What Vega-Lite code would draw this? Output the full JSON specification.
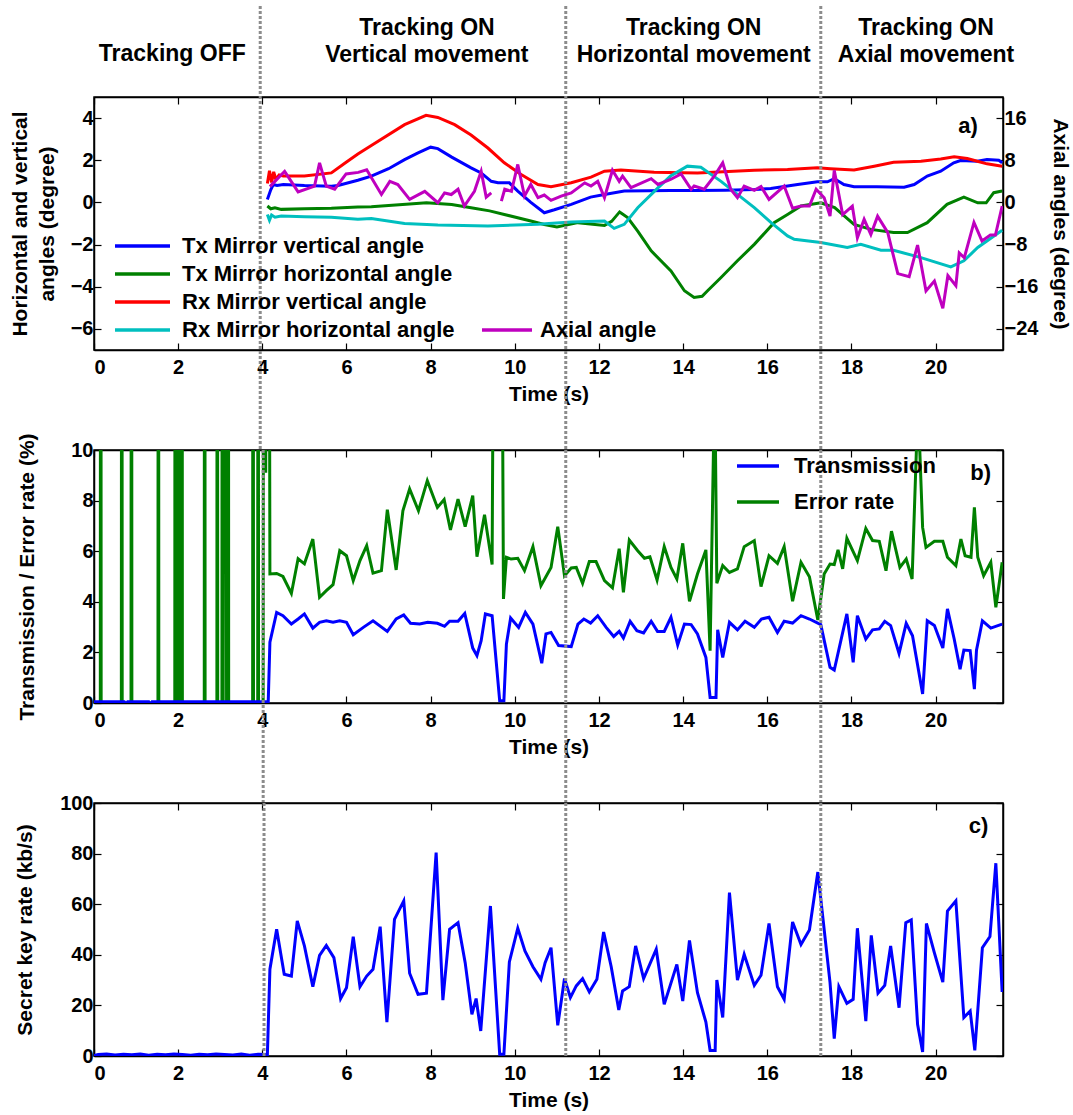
{
  "$schema": "https://vega.github.io/schema/vega-lite/v6.json",
  "background": "white",
  "padding": {"left": 8, "top": 3, "right": 5, "bottom": 5},
  "bounds": "flush",
  "spacing": 100,
  "config": {
    "font": "Liberation Sans",
    "view": {"stroke": "black", "strokeWidth": 1.5},
    "axis": {"labelFont": "Liberation Sans", "labelFontSize": 20, "labelFontWeight": "bold", "labelColor": "black", "titleFont": "Liberation Sans", "titleFontSize": 21, "titleFontWeight": "bold", "titleColor": "black", "tickColor": "black", "tickSize": -7, "tickWidth": 1.2, "domainColor": "black", "domainWidth": 1.5, "grid": false, "labelPadding": 8},
    "axisX": {"labelPadding": 14},
    "text": {"font": "Liberation Sans", "fontWeight": "bold", "color": "black"}
  },
  "datasets": {
    "angles": [
      {"series":"Tx Mirror vertical angle","t":4.12,"v":0.14},{"series":"Tx Mirror vertical angle","t":4.2,"v":0.6},{"series":"Tx Mirror vertical angle","t":4.26,"v":0.85},{"series":"Tx Mirror vertical angle","t":4.35,"v":0.8},{"series":"Tx Mirror vertical angle","t":4.5,"v":0.85},{"series":"Tx Mirror vertical angle","t":5.0,"v":0.8},{"series":"Tx Mirror vertical angle","t":5.64,"v":0.77},{"series":"Tx Mirror vertical angle","t":5.8,"v":0.8},{"series":"Tx Mirror vertical angle","t":6.27,"v":1.05},{"series":"Tx Mirror vertical angle","t":6.59,"v":1.25},{"series":"Tx Mirror vertical angle","t":7.0,"v":1.6},{"series":"Tx Mirror vertical angle","t":7.38,"v":2.03},{"series":"Tx Mirror vertical angle","t":7.7,"v":2.35},{"series":"Tx Mirror vertical angle","t":8.0,"v":2.62},{"series":"Tx Mirror vertical angle","t":8.17,"v":2.55},{"series":"Tx Mirror vertical angle","t":8.5,"v":2.15},{"series":"Tx Mirror vertical angle","t":8.96,"v":1.64},{"series":"Tx Mirror vertical angle","t":9.2,"v":1.4},{"series":"Tx Mirror vertical angle","t":9.44,"v":1.0},{"series":"Tx Mirror vertical angle","t":9.6,"v":0.93},{"series":"Tx Mirror vertical angle","t":9.87,"v":0.93},{"series":"Tx Mirror vertical angle","t":10.07,"v":0.54},{"series":"Tx Mirror vertical angle","t":10.38,"v":0.0},{"series":"Tx Mirror vertical angle","t":10.7,"v":-0.49},{"series":"Tx Mirror vertical angle","t":10.94,"v":-0.35},{"series":"Tx Mirror vertical angle","t":11.34,"v":-0.09},{"series":"Tx Mirror vertical angle","t":11.8,"v":0.25},{"series":"Tx Mirror vertical angle","t":12.13,"v":0.38},{"series":"Tx Mirror vertical angle","t":12.6,"v":0.54},{"series":"Tx Mirror vertical angle","t":13.7,"v":0.57},{"series":"Tx Mirror vertical angle","t":14.3,"v":0.57},{"series":"Tx Mirror vertical angle","t":15.0,"v":0.58},{"series":"Tx Mirror vertical angle","t":15.7,"v":0.61},{"series":"Tx Mirror vertical angle","t":16.08,"v":0.66},{"series":"Tx Mirror vertical angle","t":16.72,"v":0.85},{"series":"Tx Mirror vertical angle","t":17.19,"v":0.98},{"series":"Tx Mirror vertical angle","t":17.43,"v":0.98},{"series":"Tx Mirror vertical angle","t":17.59,"v":1.13},{"series":"Tx Mirror vertical angle","t":17.82,"v":0.85},{"series":"Tx Mirror vertical angle","t":18.06,"v":0.74},{"series":"Tx Mirror vertical angle","t":18.6,"v":0.74},{"series":"Tx Mirror vertical angle","t":19.25,"v":0.72},{"series":"Tx Mirror vertical angle","t":19.49,"v":0.85},{"series":"Tx Mirror vertical angle","t":19.8,"v":1.25},{"series":"Tx Mirror vertical angle","t":20.12,"v":1.48},{"series":"Tx Mirror vertical angle","t":20.43,"v":1.88},{"series":"Tx Mirror vertical angle","t":20.59,"v":1.99},{"series":"Tx Mirror vertical angle","t":20.99,"v":1.95},{"series":"Tx Mirror vertical angle","t":21.22,"v":2.03},{"series":"Tx Mirror vertical angle","t":21.5,"v":2.0},{"series":"Tx Mirror vertical angle","t":21.58,"v":1.88},
      {"series":"Tx Mirror horizontal angle","t":4.12,"v":-0.17},{"series":"Tx Mirror horizontal angle","t":4.2,"v":-0.3},{"series":"Tx Mirror horizontal angle","t":4.3,"v":-0.25},{"series":"Tx Mirror horizontal angle","t":4.45,"v":-0.33},{"series":"Tx Mirror horizontal angle","t":5.0,"v":-0.3},{"series":"Tx Mirror horizontal angle","t":5.64,"v":-0.28},{"series":"Tx Mirror horizontal angle","t":6.27,"v":-0.22},{"series":"Tx Mirror horizontal angle","t":6.59,"v":-0.2},{"series":"Tx Mirror horizontal angle","t":7.0,"v":-0.15},{"series":"Tx Mirror horizontal angle","t":7.5,"v":-0.08},{"series":"Tx Mirror horizontal angle","t":7.9,"v":-0.02},{"series":"Tx Mirror horizontal angle","t":8.5,"v":-0.1},{"series":"Tx Mirror horizontal angle","t":8.96,"v":-0.25},{"series":"Tx Mirror horizontal angle","t":9.4,"v":-0.4},{"series":"Tx Mirror horizontal angle","t":9.75,"v":-0.57},{"series":"Tx Mirror horizontal angle","t":10.38,"v":-0.88},{"series":"Tx Mirror horizontal angle","t":10.7,"v":-1.05},{"series":"Tx Mirror horizontal angle","t":11.0,"v":-1.17},{"series":"Tx Mirror horizontal angle","t":11.5,"v":-0.96},{"series":"Tx Mirror horizontal angle","t":12.13,"v":-1.09},{"series":"Tx Mirror horizontal angle","t":12.3,"v":-0.9},{"series":"Tx Mirror horizontal angle","t":12.49,"v":-0.45},{"series":"Tx Mirror horizontal angle","t":12.68,"v":-0.72},{"series":"Tx Mirror horizontal angle","t":12.92,"v":-1.36},{"series":"Tx Mirror horizontal angle","t":13.24,"v":-2.3},{"series":"Tx Mirror horizontal angle","t":13.71,"v":-3.25},{"series":"Tx Mirror horizontal angle","t":14.03,"v":-4.19},{"series":"Tx Mirror horizontal angle","t":14.26,"v":-4.51},{"series":"Tx Mirror horizontal angle","t":14.45,"v":-4.45},{"series":"Tx Mirror horizontal angle","t":14.58,"v":-4.19},{"series":"Tx Mirror horizontal angle","t":14.9,"v":-3.56},{"series":"Tx Mirror horizontal angle","t":15.29,"v":-2.77},{"series":"Tx Mirror horizontal angle","t":15.69,"v":-1.99},{"series":"Tx Mirror horizontal angle","t":16.16,"v":-0.96},{"series":"Tx Mirror horizontal angle","t":16.48,"v":-0.57},{"series":"Tx Mirror horizontal angle","t":16.8,"v":-0.17},{"series":"Tx Mirror horizontal angle","t":17.27,"v":-0.02},{"series":"Tx Mirror horizontal angle","t":17.6,"v":-0.25},{"series":"Tx Mirror horizontal angle","t":18.06,"v":-1.04},{"series":"Tx Mirror horizontal angle","t":18.46,"v":-1.28},{"series":"Tx Mirror horizontal angle","t":19.0,"v":-1.43},{"series":"Tx Mirror horizontal angle","t":19.33,"v":-1.43},{"series":"Tx Mirror horizontal angle","t":19.8,"v":-0.96},{"series":"Tx Mirror horizontal angle","t":20.27,"v":-0.09},{"series":"Tx Mirror horizontal angle","t":20.67,"v":0.25},{"series":"Tx Mirror horizontal angle","t":21.0,"v":-0.02},{"series":"Tx Mirror horizontal angle","t":21.2,"v":-0.02},{"series":"Tx Mirror horizontal angle","t":21.38,"v":0.46},{"series":"Tx Mirror horizontal angle","t":21.58,"v":0.54},
      {"series":"Rx Mirror vertical angle","t":4.12,"v":0.9},{"series":"Rx Mirror vertical angle","t":4.17,"v":1.5},{"series":"Rx Mirror vertical angle","t":4.22,"v":0.95},{"series":"Rx Mirror vertical angle","t":4.27,"v":1.45},{"series":"Rx Mirror vertical angle","t":4.32,"v":1.1},{"series":"Rx Mirror vertical angle","t":4.4,"v":1.3},{"series":"Rx Mirror vertical angle","t":4.5,"v":1.25},{"series":"Rx Mirror vertical angle","t":5.0,"v":1.25},{"series":"Rx Mirror vertical angle","t":5.64,"v":1.4},{"series":"Rx Mirror vertical angle","t":5.95,"v":1.85},{"series":"Rx Mirror vertical angle","t":6.27,"v":2.3},{"series":"Rx Mirror vertical angle","t":6.59,"v":2.7},{"series":"Rx Mirror vertical angle","t":7.38,"v":3.69},{"series":"Rx Mirror vertical angle","t":7.89,"v":4.13},{"series":"Rx Mirror vertical angle","t":8.17,"v":4.03},{"series":"Rx Mirror vertical angle","t":8.57,"v":3.69},{"series":"Rx Mirror vertical angle","t":8.96,"v":3.2},{"series":"Rx Mirror vertical angle","t":9.36,"v":2.58},{"series":"Rx Mirror vertical angle","t":9.75,"v":1.88},{"series":"Rx Mirror vertical angle","t":10.15,"v":1.32},{"series":"Rx Mirror vertical angle","t":10.55,"v":0.85},{"series":"Rx Mirror vertical angle","t":10.86,"v":0.74},{"series":"Rx Mirror vertical angle","t":11.34,"v":0.93},{"series":"Rx Mirror vertical angle","t":11.81,"v":1.2},{"series":"Rx Mirror vertical angle","t":12.13,"v":1.48},{"series":"Rx Mirror vertical angle","t":12.52,"v":1.54},{"series":"Rx Mirror vertical angle","t":13.31,"v":1.43},{"series":"Rx Mirror vertical angle","t":14.34,"v":1.4},{"series":"Rx Mirror vertical angle","t":15.69,"v":1.53},{"series":"Rx Mirror vertical angle","t":16.48,"v":1.56},{"series":"Rx Mirror vertical angle","t":17.19,"v":1.64},{"series":"Rx Mirror vertical angle","t":17.5,"v":1.6},{"series":"Rx Mirror vertical angle","t":18.06,"v":1.54},{"series":"Rx Mirror vertical angle","t":18.54,"v":1.72},{"series":"Rx Mirror vertical angle","t":19.0,"v":1.9},{"series":"Rx Mirror vertical angle","t":19.65,"v":1.95},{"series":"Rx Mirror vertical angle","t":20.12,"v":2.06},{"series":"Rx Mirror vertical angle","t":20.44,"v":2.16},{"series":"Rx Mirror vertical angle","t":20.75,"v":2.08},{"series":"Rx Mirror vertical angle","t":20.99,"v":1.95},{"series":"Rx Mirror vertical angle","t":21.22,"v":1.83},{"series":"Rx Mirror vertical angle","t":21.58,"v":1.72},
      {"series":"Rx Mirror horizontal angle","t":4.12,"v":-0.57},{"series":"Rx Mirror horizontal angle","t":4.17,"v":-0.85},{"series":"Rx Mirror horizontal angle","t":4.22,"v":-0.6},{"series":"Rx Mirror horizontal angle","t":4.3,"v":-0.7},{"series":"Rx Mirror horizontal angle","t":4.45,"v":-0.65},{"series":"Rx Mirror horizontal angle","t":5.0,"v":-0.68},{"series":"Rx Mirror horizontal angle","t":5.64,"v":-0.7},{"series":"Rx Mirror horizontal angle","t":6.27,"v":-0.8},{"series":"Rx Mirror horizontal angle","t":6.59,"v":-0.76},{"series":"Rx Mirror horizontal angle","t":7.38,"v":-1.0},{"series":"Rx Mirror horizontal angle","t":8.17,"v":-1.07},{"series":"Rx Mirror horizontal angle","t":9.36,"v":-1.12},{"series":"Rx Mirror horizontal angle","t":10.55,"v":-1.04},{"series":"Rx Mirror horizontal angle","t":11.34,"v":-0.93},{"series":"Rx Mirror horizontal angle","t":12.13,"v":-0.88},{"series":"Rx Mirror horizontal angle","t":12.36,"v":-1.23},{"series":"Rx Mirror horizontal angle","t":12.6,"v":-1.04},{"series":"Rx Mirror horizontal angle","t":12.92,"v":-0.25},{"series":"Rx Mirror horizontal angle","t":13.4,"v":0.69},{"series":"Rx Mirror horizontal angle","t":13.7,"v":1.25},{"series":"Rx Mirror horizontal angle","t":14.1,"v":1.72},{"series":"Rx Mirror horizontal angle","t":14.42,"v":1.67},{"series":"Rx Mirror horizontal angle","t":14.9,"v":1.0},{"series":"Rx Mirror horizontal angle","t":15.29,"v":0.38},{"series":"Rx Mirror horizontal angle","t":15.69,"v":-0.25},{"series":"Rx Mirror horizontal angle","t":16.09,"v":-0.96},{"series":"Rx Mirror horizontal angle","t":16.48,"v":-1.59},{"series":"Rx Mirror horizontal angle","t":16.64,"v":-1.75},{"series":"Rx Mirror horizontal angle","t":17.27,"v":-1.9},{"series":"Rx Mirror horizontal angle","t":17.9,"v":-2.14},{"series":"Rx Mirror horizontal angle","t":18.22,"v":-1.99},{"series":"Rx Mirror horizontal angle","t":18.7,"v":-2.27},{"series":"Rx Mirror horizontal angle","t":19.0,"v":-2.27},{"series":"Rx Mirror horizontal angle","t":19.65,"v":-2.62},{"series":"Rx Mirror horizontal angle","t":20.36,"v":-3.06},{"series":"Rx Mirror horizontal angle","t":20.67,"v":-2.77},{"series":"Rx Mirror horizontal angle","t":21.0,"v":-2.14},{"series":"Rx Mirror horizontal angle","t":21.58,"v":-1.32}
    ],
    "axial": [
      {"series":"Axial angle","seg":1,"t":4.18,"a":3.0},{"series":"Axial angle","seg":1,"t":4.53,"a":5.9},{"series":"Axial angle","seg":1,"t":4.85,"a":2.0},{"series":"Axial angle","seg":1,"t":5.24,"a":3.1},{"series":"Axial angle","seg":1,"t":5.36,"a":7.5},{"series":"Axial angle","seg":1,"t":5.52,"a":3.1},{"series":"Axial angle","seg":1,"t":5.72,"a":2.5},{"series":"Axial angle","seg":1,"t":5.99,"a":5.4},{"series":"Axial angle","seg":1,"t":6.28,"a":5.7},{"series":"Axial angle","seg":1,"t":6.48,"a":6.2},{"series":"Axial angle","seg":1,"t":6.83,"a":1.5},{"series":"Axial angle","seg":1,"t":7.03,"a":4.0},{"series":"Axial angle","seg":1,"t":7.22,"a":3.4},{"series":"Axial angle","seg":1,"t":7.5,"a":0.57},{"series":"Axial angle","seg":1,"t":7.86,"a":2.1},{"series":"Axial angle","seg":1,"t":8.17,"a":-0.06},{"series":"Axial angle","seg":1,"t":8.33,"a":1.8},{"series":"Axial angle","seg":1,"t":8.49,"a":1.5},{"series":"Axial angle","seg":1,"t":8.65,"a":2.5},{"series":"Axial angle","seg":1,"t":8.8,"a":-0.7},{"series":"Axial angle","seg":1,"t":9.04,"a":2.1},{"series":"Axial angle","seg":1,"t":9.2,"a":5.9},{"series":"Axial angle","seg":1,"t":9.32,"a":1.0},{"series":"Axial angle","seg":1,"t":9.44,"a":1.8},
      {"series":"Axial angle","seg":2,"t":9.68,"a":0.25},{"series":"Axial angle","seg":2,"t":9.76,"a":2.5},{"series":"Axial angle","seg":2,"t":9.92,"a":2.1},{"series":"Axial angle","seg":2,"t":10.07,"a":7.2},{"series":"Axial angle","seg":2,"t":10.23,"a":1.2},{"series":"Axial angle","seg":2,"t":10.38,"a":3.4},{"series":"Axial angle","seg":2,"t":10.55,"a":0.9},{"series":"Axial angle","seg":2,"t":10.7,"a":1.4},{"series":"Axial angle","seg":2,"t":10.86,"a":0.4},{"series":"Axial angle","seg":2,"t":11.1,"a":1.2},{"series":"Axial angle","seg":2,"t":11.34,"a":1.8},{"series":"Axial angle","seg":2,"t":11.66,"a":3.7},{"series":"Axial angle","seg":2,"t":11.81,"a":3.1},{"series":"Axial angle","seg":2,"t":11.97,"a":4.0},{"series":"Axial angle","seg":2,"t":12.13,"a":0.9},{"series":"Axial angle","seg":2,"t":12.32,"a":6.1},{"series":"Axial angle","seg":2,"t":12.48,"a":4.0},{"series":"Axial angle","seg":2,"t":12.56,"a":5.0},{"series":"Axial angle","seg":2,"t":12.76,"a":2.8},{"series":"Axial angle","seg":2,"t":13.24,"a":4.5},{"series":"Axial angle","seg":2,"t":13.4,"a":3.4},{"series":"Axial angle","seg":2,"t":13.7,"a":4.35},{"series":"Axial angle","seg":2,"t":13.95,"a":5.4},{"series":"Axial angle","seg":2,"t":14.19,"a":2.5},{"series":"Axial angle","seg":2,"t":14.26,"a":3.1},{"series":"Axial angle","seg":2,"t":14.5,"a":2.5},{"series":"Axial angle","seg":2,"t":14.74,"a":5.0},{"series":"Axial angle","seg":2,"t":14.94,"a":7.5},{"series":"Axial angle","seg":2,"t":15.13,"a":2.5},{"series":"Axial angle","seg":2,"t":15.29,"a":0.9},{"series":"Axial angle","seg":2,"t":15.45,"a":3.1},{"series":"Axial angle","seg":2,"t":15.69,"a":2.3},{"series":"Axial angle","seg":2,"t":15.85,"a":3.0},{"series":"Axial angle","seg":2,"t":16.04,"a":0.57},{"series":"Axial angle","seg":2,"t":16.4,"a":3.1},{"series":"Axial angle","seg":2,"t":16.6,"a":-1.1},{"series":"Axial angle","seg":2,"t":16.8,"a":-0.7},{"series":"Axial angle","seg":2,"t":17.0,"a":-0.7},{"series":"Axial angle","seg":2,"t":17.16,"a":2.5},{"series":"Axial angle","seg":2,"t":17.35,"a":0.9},{"series":"Axial angle","seg":2,"t":17.49,"a":-2.6},{"series":"Axial angle","seg":2,"t":17.59,"a":6.1},{"series":"Axial angle","seg":2,"t":17.79,"a":-2.3},{"series":"Axial angle","seg":2,"t":18.02,"a":-0.7},{"series":"Axial angle","seg":2,"t":18.14,"a":-6.7},{"series":"Axial angle","seg":2,"t":18.3,"a":-3.2},{"series":"Axial angle","seg":2,"t":18.46,"a":-6.1},{"series":"Axial angle","seg":2,"t":18.62,"a":-2.6},{"series":"Axial angle","seg":2,"t":18.86,"a":-5.7},{"series":"Axial angle","seg":2,"t":19.1,"a":-13.5},{"series":"Axial angle","seg":2,"t":19.37,"a":-14.1},{"series":"Axial angle","seg":2,"t":19.57,"a":-8.1},{"series":"Axial angle","seg":2,"t":19.77,"a":-16.8},{"series":"Axial angle","seg":2,"t":19.97,"a":-14.9},{"series":"Axial angle","seg":2,"t":20.17,"a":-20.1},{"series":"Axial angle","seg":2,"t":20.29,"a":-13.9},{"series":"Axial angle","seg":2,"t":20.48,"a":-15.8},{"series":"Axial angle","seg":2,"t":20.56,"a":-9.6},{"series":"Axial angle","seg":2,"t":20.68,"a":-10.5},{"series":"Axial angle","seg":2,"t":20.91,"a":-3.8},{"series":"Axial angle","seg":2,"t":21.1,"a":-7.3},{"series":"Axial angle","seg":2,"t":21.3,"a":-6.2},{"series":"Axial angle","seg":2,"t":21.42,"a":-6.2},{"series":"Axial angle","seg":2,"t":21.58,"a":-0.7}
    ],
    "bdata": [
      {"series":"Error rate","t":0,"v":0},
      {"series":"Error rate","t":0.15,"v":0},{"series":"Error rate","t":0.16,"v":50},{"series":"Error rate","t":0.17,"v":0},
      {"series":"Error rate","t":0.65,"v":0},{"series":"Error rate","t":0.66,"v":50},{"series":"Error rate","t":0.67,"v":0},
      {"series":"Error rate","t":0.88,"v":0},{"series":"Error rate","t":0.89,"v":50},{"series":"Error rate","t":0.9,"v":0},
      {"series":"Error rate","t":1.52,"v":0},{"series":"Error rate","t":1.53,"v":50},{"series":"Error rate","t":1.54,"v":0},
      {"series":"Error rate","t":1.92,"v":0},{"series":"Error rate","t":1.93,"v":50},{"series":"Error rate","t":1.95,"v":0},{"series":"Error rate","t":1.97,"v":50},{"series":"Error rate","t":1.99,"v":0},{"series":"Error rate","t":2.01,"v":50},{"series":"Error rate","t":2.03,"v":0},{"series":"Error rate","t":2.05,"v":50},{"series":"Error rate","t":2.07,"v":0},{"series":"Error rate","t":2.09,"v":50},{"series":"Error rate","t":2.1,"v":0},
      {"series":"Error rate","t":2.62,"v":0},{"series":"Error rate","t":2.63,"v":50},{"series":"Error rate","t":2.64,"v":0},
      {"series":"Error rate","t":2.92,"v":0},{"series":"Error rate","t":2.93,"v":50},{"series":"Error rate","t":2.94,"v":0},
      {"series":"Error rate","t":3.04,"v":0},{"series":"Error rate","t":3.05,"v":50},{"series":"Error rate","t":3.07,"v":0},{"series":"Error rate","t":3.11,"v":50},{"series":"Error rate","t":3.15,"v":0},{"series":"Error rate","t":3.19,"v":50},{"series":"Error rate","t":3.2,"v":0},
      {"series":"Error rate","t":3.77,"v":0},{"series":"Error rate","t":3.78,"v":50},{"series":"Error rate","t":3.79,"v":0},
      {"series":"Error rate","t":3.89,"v":0},{"series":"Error rate","t":3.9,"v":50},{"series":"Error rate","t":3.91,"v":0},
      {"series":"Error rate","t":4.02,"v":0},{"series":"Error rate","t":4.04,"v":50},{"series":"Error rate","t":4.08,"v":9.1},{"series":"Error rate","t":4.13,"v":50},
      {"series":"Error rate","t":4.18,"v":5.1},{"series":"Error rate","t":4.34,"v":5.12},{"series":"Error rate","t":4.49,"v":5.0},{"series":"Error rate","t":4.69,"v":4.33},{"series":"Error rate","t":4.85,"v":5.7},{"series":"Error rate","t":5.0,"v":5.5},{"series":"Error rate","t":5.2,"v":6.48},{"series":"Error rate","t":5.36,"v":4.18},{"series":"Error rate","t":5.52,"v":4.44},{"series":"Error rate","t":5.68,"v":4.68},{"series":"Error rate","t":5.84,"v":6.02},{"series":"Error rate","t":6.0,"v":5.82},{"series":"Error rate","t":6.16,"v":4.84},{"series":"Error rate","t":6.32,"v":5.63},{"series":"Error rate","t":6.48,"v":6.22},{"series":"Error rate","t":6.63,"v":5.13},{"series":"Error rate","t":6.83,"v":5.23},{"series":"Error rate","t":6.97,"v":7.64},{"series":"Error rate","t":7.18,"v":5.26},{"series":"Error rate","t":7.34,"v":7.6},{"series":"Error rate","t":7.5,"v":8.46},{"series":"Error rate","t":7.71,"v":7.6},{"series":"Error rate","t":7.92,"v":8.79},{"series":"Error rate","t":8.16,"v":7.73},{"series":"Error rate","t":8.32,"v":8.04},{"series":"Error rate","t":8.47,"v":6.84},{"series":"Error rate","t":8.65,"v":8.06},{"series":"Error rate","t":8.82,"v":6.97},{"series":"Error rate","t":9.0,"v":8.2},{"series":"Error rate","t":9.1,"v":5.78},{"series":"Error rate","t":9.28,"v":7.44},{"series":"Error rate","t":9.46,"v":5.47},{"series":"Error rate","t":9.6,"v":50},{"series":"Error rate","t":9.73,"v":4.11},{"series":"Error rate","t":9.8,"v":5.76},{"series":"Error rate","t":9.91,"v":5.69},{"series":"Error rate","t":10.07,"v":5.72},{"series":"Error rate","t":10.23,"v":5.23},{"series":"Error rate","t":10.43,"v":6.18},{"series":"Error rate","t":10.62,"v":4.64},{"series":"Error rate","t":10.86,"v":5.36},{"series":"Error rate","t":11.02,"v":6.97},{"series":"Error rate","t":11.18,"v":5.03},{"series":"Error rate","t":11.34,"v":5.34},{"series":"Error rate","t":11.46,"v":5.36},{"series":"Error rate","t":11.61,"v":4.73},{"series":"Error rate","t":11.77,"v":5.59},{"series":"Error rate","t":11.93,"v":5.59},{"series":"Error rate","t":12.13,"v":4.84},{"series":"Error rate","t":12.32,"v":4.55},{"series":"Error rate","t":12.48,"v":6.1},{"series":"Error rate","t":12.58,"v":4.37},{"series":"Error rate","t":12.72,"v":6.44},{"series":"Error rate","t":12.92,"v":6.02},{"series":"Error rate","t":13.08,"v":5.72},{"series":"Error rate","t":13.21,"v":5.78},{"series":"Error rate","t":13.38,"v":4.86},{"series":"Error rate","t":13.55,"v":6.18},{"series":"Error rate","t":13.71,"v":5.36},{"series":"Error rate","t":13.85,"v":4.9},{"series":"Error rate","t":13.99,"v":6.31},{"series":"Error rate","t":14.15,"v":4.02},{"series":"Error rate","t":14.34,"v":5.1},{"series":"Error rate","t":14.54,"v":6.05},{"series":"Error rate","t":14.64,"v":2.07},{"series":"Error rate","t":14.75,"v":13},{"series":"Error rate","t":14.8,"v":4.73},{"series":"Error rate","t":14.94,"v":5.43},{"series":"Error rate","t":15.1,"v":5.16},{"series":"Error rate","t":15.29,"v":5.3},{"series":"Error rate","t":15.45,"v":6.18},{"series":"Error rate","t":15.69,"v":6.42},{"series":"Error rate","t":15.85,"v":4.6},{"series":"Error rate","t":16.04,"v":5.82},{"series":"Error rate","t":16.24,"v":5.52},{"series":"Error rate","t":16.4,"v":6.18},{"series":"Error rate","t":16.6,"v":4.02},{"series":"Error rate","t":16.8,"v":5.56},{"series":"Error rate","t":17.0,"v":4.99},{"series":"Error rate","t":17.2,"v":3.28},{"series":"Error rate","t":17.35,"v":5.1},{"series":"Error rate","t":17.49,"v":5.49},{"series":"Error rate","t":17.59,"v":5.47},{"series":"Error rate","t":17.68,"v":6.05},{"series":"Error rate","t":17.79,"v":5.3},{"series":"Error rate","t":17.89,"v":6.51},{"series":"Error rate","t":18.14,"v":5.63},{"series":"Error rate","t":18.34,"v":6.9},{"series":"Error rate","t":18.5,"v":6.42},{"series":"Error rate","t":18.66,"v":6.39},{"series":"Error rate","t":18.82,"v":5.23},{"series":"Error rate","t":18.95,"v":6.79},{"series":"Error rate","t":19.15,"v":5.36},{"series":"Error rate","t":19.3,"v":5.69},{"series":"Error rate","t":19.44,"v":4.9},{"series":"Error rate","t":19.58,"v":11.9},{"series":"Error rate","t":19.69,"v":6.94},{"series":"Error rate","t":19.77,"v":6.15},{"series":"Error rate","t":19.97,"v":6.39},{"series":"Error rate","t":20.17,"v":6.39},{"series":"Error rate","t":20.28,"v":5.76},{"series":"Error rate","t":20.48,"v":5.43},{"series":"Error rate","t":20.6,"v":6.48},{"series":"Error rate","t":20.7,"v":5.82},{"series":"Error rate","t":20.84,"v":5.76},{"series":"Error rate","t":20.92,"v":7.73},{"series":"Error rate","t":21.0,"v":5.76},{"series":"Error rate","t":21.14,"v":5.03},{"series":"Error rate","t":21.31,"v":5.56},{"series":"Error rate","t":21.43,"v":3.78},{"series":"Error rate","t":21.58,"v":5.56},
      {"series":"Transmission","t":0,"v":0.05},{"series":"Transmission","t":0.72,"v":0.05},{"series":"Transmission","t":0.76,"v":-0.05},{"series":"Transmission","t":0.8,"v":0.05},{"series":"Transmission","t":1.3,"v":0.05},{"series":"Transmission","t":1.34,"v":-0.07},{"series":"Transmission","t":1.38,"v":0.05},{"series":"Transmission","t":4.14,"v":0.05},{"series":"Transmission","t":4.18,"v":2.4},{"series":"Transmission","t":4.34,"v":3.58},{"series":"Transmission","t":4.49,"v":3.45},{"series":"Transmission","t":4.69,"v":3.12},{"series":"Transmission","t":4.85,"v":3.32},{"series":"Transmission","t":5.0,"v":3.52},{"series":"Transmission","t":5.2,"v":2.96},{"series":"Transmission","t":5.36,"v":3.19},{"series":"Transmission","t":5.52,"v":3.25},{"series":"Transmission","t":5.68,"v":3.19},{"series":"Transmission","t":5.84,"v":3.25},{"series":"Transmission","t":6.0,"v":3.19},{"series":"Transmission","t":6.16,"v":2.7},{"series":"Transmission","t":6.4,"v":2.99},{"series":"Transmission","t":6.63,"v":3.25},{"series":"Transmission","t":6.97,"v":2.83},{"series":"Transmission","t":7.18,"v":3.32},{"series":"Transmission","t":7.36,"v":3.48},{"series":"Transmission","t":7.52,"v":3.15},{"series":"Transmission","t":7.74,"v":3.12},{"series":"Transmission","t":7.93,"v":3.19},{"series":"Transmission","t":8.16,"v":3.15},{"series":"Transmission","t":8.33,"v":3.03},{"series":"Transmission","t":8.45,"v":3.23},{"series":"Transmission","t":8.65,"v":3.23},{"series":"Transmission","t":8.81,"v":3.54},{"series":"Transmission","t":9.0,"v":2.17},{"series":"Transmission","t":9.1,"v":1.87},{"series":"Transmission","t":9.2,"v":2.46},{"series":"Transmission","t":9.3,"v":3.52},{"series":"Transmission","t":9.46,"v":3.45},{"series":"Transmission","t":9.64,"v":0.09},{"series":"Transmission","t":9.74,"v":0.09},{"series":"Transmission","t":9.8,"v":2.33},{"series":"Transmission","t":9.9,"v":3.36},{"series":"Transmission","t":10.09,"v":2.99},{"series":"Transmission","t":10.25,"v":3.58},{"series":"Transmission","t":10.43,"v":3.12},{"series":"Transmission","t":10.64,"v":1.57},{"series":"Transmission","t":10.74,"v":2.73},{"series":"Transmission","t":10.86,"v":2.79},{"series":"Transmission","t":11.04,"v":2.27},{"series":"Transmission","t":11.34,"v":2.23},{"series":"Transmission","t":11.5,"v":3.12},{"series":"Transmission","t":11.64,"v":3.32},{"series":"Transmission","t":11.8,"v":3.16},{"series":"Transmission","t":11.97,"v":3.45},{"series":"Transmission","t":12.17,"v":2.99},{"series":"Transmission","t":12.35,"v":2.63},{"series":"Transmission","t":12.48,"v":2.83},{"series":"Transmission","t":12.58,"v":2.57},{"series":"Transmission","t":12.74,"v":3.23},{"series":"Transmission","t":12.9,"v":2.86},{"series":"Transmission","t":13.06,"v":2.77},{"series":"Transmission","t":13.24,"v":3.23},{"series":"Transmission","t":13.39,"v":2.83},{"series":"Transmission","t":13.55,"v":2.83},{"series":"Transmission","t":13.71,"v":3.39},{"series":"Transmission","t":13.87,"v":2.29},{"series":"Transmission","t":14.03,"v":3.12},{"series":"Transmission","t":14.19,"v":3.1},{"series":"Transmission","t":14.34,"v":2.73},{"series":"Transmission","t":14.54,"v":1.8},{"series":"Transmission","t":14.64,"v":0.22},{"series":"Transmission","t":14.78,"v":0.22},{"series":"Transmission","t":14.82,"v":2.89},{"series":"Transmission","t":14.94,"v":1.8},{"series":"Transmission","t":15.1,"v":3.19},{"series":"Transmission","t":15.29,"v":2.89},{"series":"Transmission","t":15.47,"v":3.23},{"series":"Transmission","t":15.69,"v":2.99},{"series":"Transmission","t":15.86,"v":3.32},{"series":"Transmission","t":16.04,"v":3.39},{"series":"Transmission","t":16.24,"v":2.79},{"series":"Transmission","t":16.4,"v":3.23},{"series":"Transmission","t":16.6,"v":3.16},{"series":"Transmission","t":16.8,"v":3.45},{"series":"Transmission","t":17.0,"v":3.32},{"series":"Transmission","t":17.27,"v":3.1},{"series":"Transmission","t":17.49,"v":1.41},{"series":"Transmission","t":17.59,"v":1.3},{"series":"Transmission","t":17.89,"v":3.52},{"series":"Transmission","t":18.04,"v":1.61},{"series":"Transmission","t":18.14,"v":3.45},{"series":"Transmission","t":18.34,"v":2.53},{"series":"Transmission","t":18.5,"v":2.89},{"series":"Transmission","t":18.66,"v":2.93},{"series":"Transmission","t":18.79,"v":3.23},{"series":"Transmission","t":18.93,"v":3.06},{"series":"Transmission","t":19.13,"v":1.96},{"series":"Transmission","t":19.3,"v":3.15},{"series":"Transmission","t":19.45,"v":2.66},{"series":"Transmission","t":19.69,"v":0.36},{"series":"Transmission","t":19.8,"v":3.25},{"series":"Transmission","t":19.97,"v":3.06},{"series":"Transmission","t":20.17,"v":2.17},{"series":"Transmission","t":20.28,"v":3.72},{"series":"Transmission","t":20.44,"v":2.53},{"series":"Transmission","t":20.58,"v":1.34},{"series":"Transmission","t":20.67,"v":2.09},{"series":"Transmission","t":20.82,"v":2.07},{"series":"Transmission","t":20.92,"v":0.55},{"series":"Transmission","t":20.97,"v":2.09},{"series":"Transmission","t":21.11,"v":3.25},{"series":"Transmission","t":21.31,"v":2.96},{"series":"Transmission","t":21.58,"v":3.12}
    ],
    "cdata": [
      {"t":0,"k":0.2},{"t":0.1,"k":0.6},{"t":0.3,"k":0.8},{"t":0.5,"k":0.4},{"t":0.7,"k":0.7},{"t":0.9,"k":0.5},{"t":1.1,"k":0.8},{"t":1.3,"k":0.3},{"t":1.5,"k":0.7},{"t":1.7,"k":0.5},{"t":1.9,"k":0.8},{"t":2.1,"k":0.6},{"t":2.3,"k":0.3},{"t":2.5,"k":0.7},{"t":2.7,"k":0.5},{"t":2.9,"k":0.8},{"t":3.1,"k":0.6},{"t":3.3,"k":0.4},{"t":3.5,"k":0.8},{"t":3.7,"k":0.3},{"t":3.9,"k":0.7},{"t":4.12,"k":0.6},
      {"t":4.18,"k":34.3},{"t":4.34,"k":50.1},{"t":4.52,"k":32.3},{"t":4.69,"k":31.6},{"t":4.83,"k":53.4},{"t":5.0,"k":43.5},{"t":5.2,"k":27.4},{"t":5.36,"k":39.8},{"t":5.52,"k":43.7},{"t":5.7,"k":38.9},{"t":5.86,"k":22.7},{"t":6.0,"k":27.0},{"t":6.16,"k":47.2},{"t":6.32,"k":27.4},{"t":6.48,"k":31.6},{"t":6.63,"k":34.3},{"t":6.8,"k":51.1},{"t":6.96,"k":13.4},{"t":7.14,"k":54.0},{"t":7.36,"k":61.3},{"t":7.5,"k":32.7},{"t":7.7,"k":24.4},{"t":7.9,"k":24.8},{"t":8.13,"k":80.4},{"t":8.29,"k":22.1},{"t":8.45,"k":50.1},{"t":8.65,"k":52.7},{"t":8.82,"k":36.9},{"t":8.98,"k":16.5},{"t":9.08,"k":22.7},{"t":9.19,"k":9.9},{"t":9.42,"k":59.3},{"t":9.64,"k":0.7},{"t":9.74,"k":0.7},{"t":9.87,"k":37.2},{"t":10.07,"k":50.5},{"t":10.24,"k":41.5},{"t":10.43,"k":35.3},{"t":10.62,"k":30.3},{"t":10.72,"k":36.9},{"t":10.86,"k":42.8},{"t":11.02,"k":12.1},{"t":11.18,"k":30.6},{"t":11.32,"k":23.1},{"t":11.46,"k":27.7},{"t":11.61,"k":30.6},{"t":11.77,"k":25.3},{"t":11.95,"k":30.3},{"t":12.11,"k":49.0},{"t":12.29,"k":35.3},{"t":12.47,"k":18.2},{"t":12.56,"k":25.7},{"t":12.72,"k":27.4},{"t":12.87,"k":43.5},{"t":13.06,"k":30.6},{"t":13.36,"k":42.2},{"t":13.55,"k":20.4},{"t":13.85,"k":36.2},{"t":13.99,"k":21.7},{"t":14.15,"k":45.7},{"t":14.34,"k":25.0},{"t":14.54,"k":13.4},{"t":14.64,"k":2.2},{"t":14.76,"k":2.2},{"t":14.8,"k":30.0},{"t":14.94,"k":15.2},{"t":15.1,"k":64.6},{"t":15.29,"k":30.0},{"t":15.45,"k":40.2},{"t":15.69,"k":27.9},{"t":15.85,"k":31.9},{"t":16.04,"k":52.4},{"t":16.24,"k":27.4},{"t":16.4,"k":22.4},{"t":16.6,"k":53.0},{"t":16.8,"k":44.1},{"t":17.0,"k":49.8},{"t":17.2,"k":72.7},{"t":17.49,"k":29.0},{"t":17.59,"k":6.9},{"t":17.7,"k":27.4},{"t":17.89,"k":20.8},{"t":18.04,"k":22.4},{"t":18.14,"k":50.5},{"t":18.34,"k":13.8},{"t":18.47,"k":47.7},{"t":18.63,"k":24.8},{"t":18.79,"k":27.9},{"t":18.93,"k":43.5},{"t":19.13,"k":19.1},{"t":19.29,"k":52.7},{"t":19.42,"k":53.8},{"t":19.57,"k":12.5},{"t":19.69,"k":1.6},{"t":19.78,"k":52.4},{"t":19.97,"k":40.8},{"t":20.17,"k":29.2},{"t":20.28,"k":57.3},{"t":20.48,"k":61.3},{"t":20.67,"k":15.2},{"t":20.82,"k":17.8},{"t":20.93,"k":2.2},{"t":21.11,"k":42.8},{"t":21.29,"k":47.2},{"t":21.43,"k":76.2},{"t":21.58,"k":25.3}
    ],
    "headsOn": [
      {"t":7.91,"label":"Tracking ON\nVertical movement"},
      {"t":14.25,"label":"Tracking ON\nHorizontal movement"},
      {"t":19.77,"label":"Tracking ON\nAxial movement"}
    ],
    "headsOff": [{"t":1.86,"label":"Tracking OFF"}]
  },
  "vconcat": [
    {
      "width": 909, "height": 253,
      "layer": [
        {
          "layer": [
            {
              "data": {"name": "angles"},
              "mark": {"type": "line", "strokeWidth": 3, "clip": true},
              "encoding": {
                "x": {"field": "t", "type": "quantitative", "scale": {"domain": [0, 21.6], "nice": false, "zero": false}, "axis": {"values": [0,2,4,6,8,10,12,14,16,18,20], "title": "Time (s)", "titlePadding": 6}},
                "y": {"field": "v", "type": "quantitative", "scale": {"domain": [-7, 5], "nice": false, "zero": false}, "axis": {"values": [-6,-4,-2,0,2,4], "title": ["Horizontal and vertical", "angles (degree)"], "titleLineHeight": 27, "titlePadding": 13}},
                "color": {"field": "series", "type": "nominal",
                  "scale": {"domain": ["Tx Mirror vertical angle","Tx Mirror horizontal angle","Rx Mirror vertical angle","Rx Mirror horizontal angle"], "range": ["#0000ff","#008000","#ff0000","#00bfbf"]},
                  "legend": {"orient": "none", "legendX": 19, "legendY": 136, "title": null, "symbolType": "stroke", "symbolSize": 3025, "symbolStrokeWidth": 3.5, "labelFontSize": 22, "labelFontWeight": "bold", "labelFont": "Liberation Sans", "labelColor": "black", "labelOffset": 10, "clipHeight": 26, "rowPadding": 2, "padding": 0, "labelLimit": 400}}
              }
            },
            {
              "data": {"values": [{"t": 3.95}, {"t": 11.21}, {"t": 17.27}]},
              "mark": {"type": "rule", "color": "#8c8c8c", "strokeWidth": 3, "strokeDash": [3, 2]},
              "encoding": {
                "x": {"field": "t", "type": "quantitative", "scale": {"domain": [0, 21.6], "nice": false, "zero": false}},
                "y": {"datum": 9.32, "type": "quantitative", "scale": {"domain": [-7, 5], "nice": false, "zero": false}},
                "y2": {"datum": -11.74}
              }
            },
            {
              "data": {"name": "headsOn"},
              "mark": {"type": "text", "fontSize": 23, "fontWeight": "bold", "lineBreak": "\n", "lineHeight": 27, "baseline": "alphabetic", "align": "center"},
              "encoding": {
                "x": {"field": "t", "type": "quantitative", "scale": {"domain": [0, 21.6], "nice": false, "zero": false}},
                "y": {"datum": 7.93, "type": "quantitative", "scale": {"domain": [-7, 5], "nice": false, "zero": false}},
                "text": {"field": "label"}
              }
            },
            {
              "data": {"name": "headsOff"},
              "mark": {"type": "text", "fontSize": 23, "fontWeight": "bold", "baseline": "alphabetic", "align": "center"},
              "encoding": {
                "x": {"field": "t", "type": "quantitative", "scale": {"domain": [0, 21.6], "nice": false, "zero": false}},
                "y": {"datum": 6.71, "type": "quantitative", "scale": {"domain": [-7, 5], "nice": false, "zero": false}},
                "text": {"field": "label"}
              }
            },
            {
              "data": {"values": [{"label": "a)"}]},
              "mark": {"type": "text", "fontSize": 22, "fontWeight": "bold", "baseline": "middle", "align": "center"},
              "encoding": {
                "x": {"datum": 20.77, "type": "quantitative", "scale": {"domain": [0, 21.6], "nice": false, "zero": false}},
                "y": {"datum": 3.62, "type": "quantitative", "scale": {"domain": [-7, 5], "nice": false, "zero": false}},
                "text": {"field": "label"}
              }
            }
          ]
        },
        {
          "data": {"name": "axial"},
          "mark": {"type": "line", "strokeWidth": 3, "clip": true},
          "encoding": {
            "x": {"field": "t", "type": "quantitative", "scale": {"domain": [0, 21.6], "nice": false, "zero": false}, "axis": {"orient": "top", "labels": false, "title": null, "values": [0,2,4,6,8,10,12,14,16,18,20]}},
            "y": {"field": "a", "type": "quantitative", "scale": {"domain": [-28, 20], "nice": false, "zero": false}, "axis": {"orient": "right", "values": [-24,-16,-8,0,8,16], "title": "Axial angles (degree)", "titlePadding": 12}},
            "detail": {"field": "seg", "type": "nominal"},
            "color": {"field": "series", "type": "nominal", "scale": {"domain": ["Axial angle"], "range": ["#bf00bf"]},
              "legend": {"orient": "none", "legendX": 386, "legendY": 220, "title": null, "symbolType": "stroke", "symbolSize": 2500, "symbolStrokeWidth": 3.5, "labelFontSize": 22, "labelFontWeight": "bold", "labelFont": "Liberation Sans", "labelColor": "black", "labelOffset": 6, "clipHeight": 26, "padding": 0}}
          }
        }
      ],
      "resolve": {"scale": {"y": "independent", "color": "independent"}, "axis": {"x": "independent", "y": "independent"}}
    },
    {
      "width": 909, "height": 253,
      "layer": [
        {
          "data": {"name": "bdata"},
          "mark": {"type": "line", "strokeWidth": 3, "clip": true},
          "encoding": {
            "x": {"field": "t", "type": "quantitative", "scale": {"domain": [0, 21.6], "nice": false, "zero": false}, "axis": {"values": [0,2,4,6,8,10,12,14,16,18,20], "title": "Time (s)", "titlePadding": 6}},
            "y": {"field": "v", "type": "quantitative", "scale": {"domain": [0, 10], "nice": false, "zero": false}, "axis": {"values": [0,2,4,6,8,10], "title": "Transmission / Error rate (%)", "titlePadding": 33}},
            "color": {"field": "series", "type": "nominal", "scale": {"domain": ["Transmission", "Error rate"], "range": ["#0000ff", "#008000"]},
              "legend": {"orient": "none", "legendX": 641, "legendY": 356, "title": null, "symbolType": "stroke", "symbolSize": 1764, "symbolStrokeWidth": 3.5, "labelFontSize": 22, "labelFontWeight": "bold", "labelFont": "Liberation Sans", "labelColor": "black", "labelOffset": 13, "clipHeight": 26, "rowPadding": 10, "padding": 0}},
            "order": {"field": "t", "type": "quantitative"}
          }
        },
        {
          "data": {"values": [{"t": 4.02}, {"t": 11.21}, {"t": 17.27}]},
          "mark": {"type": "rule", "color": "#8c8c8c", "strokeWidth": 3, "strokeDash": [3, 2]},
          "encoding": {
            "x": {"field": "t", "type": "quantitative", "scale": {"domain": [0, 21.6], "nice": false, "zero": false}, "axis": null},
            "y": {"datum": 10, "type": "quantitative", "scale": {"domain": [0, 10], "nice": false, "zero": false}, "axis": null},
            "y2": {"datum": -3.91}
          }
        },
        {
          "data": {"values": [{"label": "b)"}]},
          "mark": {"type": "text", "fontSize": 22, "fontWeight": "bold", "baseline": "middle", "align": "center"},
          "encoding": {
            "x": {"datum": 21.07, "type": "quantitative", "scale": {"domain": [0, 21.6], "nice": false, "zero": false}, "axis": null},
            "y": {"datum": 9.11, "type": "quantitative", "scale": {"domain": [0, 10], "nice": false, "zero": false}, "axis": null},
            "text": {"field": "label"}
          }
        },
        {
          "data": {"values": [{"t": 0, "v": 0}]},
          "mark": {"type": "point", "opacity": 0},
          "encoding": {
            "x": {"field": "t", "type": "quantitative", "scale": {"domain": [0, 21.6], "nice": false, "zero": false}, "axis": {"orient": "top", "labels": false, "title": null, "values": [0,2,4,6,8,10,12,14,16,18,20]}},
            "y": {"field": "v", "type": "quantitative", "scale": {"domain": [0, 10], "nice": false, "zero": false}, "axis": {"orient": "right", "labels": false, "title": null, "values": [0,2,4,6,8,10]}}
          }
        }
      ],
      "resolve": {"axis": {"x": "independent", "y": "independent"}}
    },
    {
      "width": 909, "height": 253,
      "layer": [
        {
          "data": {"name": "cdata"},
          "mark": {"type": "line", "strokeWidth": 3, "clip": true, "color": "#0000ff"},
          "encoding": {
            "x": {"field": "t", "type": "quantitative", "scale": {"domain": [0, 21.6], "nice": false, "zero": false}, "axis": {"values": [0,2,4,6,8,10,12,14,16,18,20], "title": "Time (s)", "titlePadding": 6}},
            "y": {"field": "k", "type": "quantitative", "scale": {"domain": [0, 100], "nice": false, "zero": false}, "axis": {"values": [0,20,40,60,80,100], "title": "Secret key rate (kb/s)", "titlePadding": 24}}
          }
        },
        {
          "data": {"values": [{"t": 4.04}, {"t": 11.21}, {"t": 17.27}]},
          "mark": {"type": "rule", "color": "#8c8c8c", "strokeWidth": 3, "strokeDash": [3, 2]},
          "encoding": {
            "x": {"field": "t", "type": "quantitative", "scale": {"domain": [0, 21.6], "nice": false, "zero": false}, "axis": null},
            "y": {"datum": 100, "type": "quantitative", "scale": {"domain": [0, 100], "nice": false, "zero": false}, "axis": null},
            "y2": {"datum": -0.5}
          }
        },
        {
          "data": {"values": [{"label": "c)"}]},
          "mark": {"type": "text", "fontSize": 22, "fontWeight": "bold", "baseline": "middle", "align": "center"},
          "encoding": {
            "x": {"datum": 21.02, "type": "quantitative", "scale": {"domain": [0, 21.6], "nice": false, "zero": false}, "axis": null},
            "y": {"datum": 90.9, "type": "quantitative", "scale": {"domain": [0, 100], "nice": false, "zero": false}, "axis": null},
            "text": {"field": "label"}
          }
        },
        {
          "data": {"values": [{"t": 0, "k": 0}]},
          "mark": {"type": "point", "opacity": 0},
          "encoding": {
            "x": {"field": "t", "type": "quantitative", "scale": {"domain": [0, 21.6], "nice": false, "zero": false}, "axis": {"orient": "top", "labels": false, "title": null, "values": [0,2,4,6,8,10,12,14,16,18,20]}},
            "y": {"field": "k", "type": "quantitative", "scale": {"domain": [0, 100], "nice": false, "zero": false}, "axis": {"orient": "right", "labels": false, "title": null, "values": [0,20,40,60,80,100]}}
          }
        }
      ],
      "resolve": {"axis": {"x": "independent", "y": "independent"}}
    }
  ]
}
